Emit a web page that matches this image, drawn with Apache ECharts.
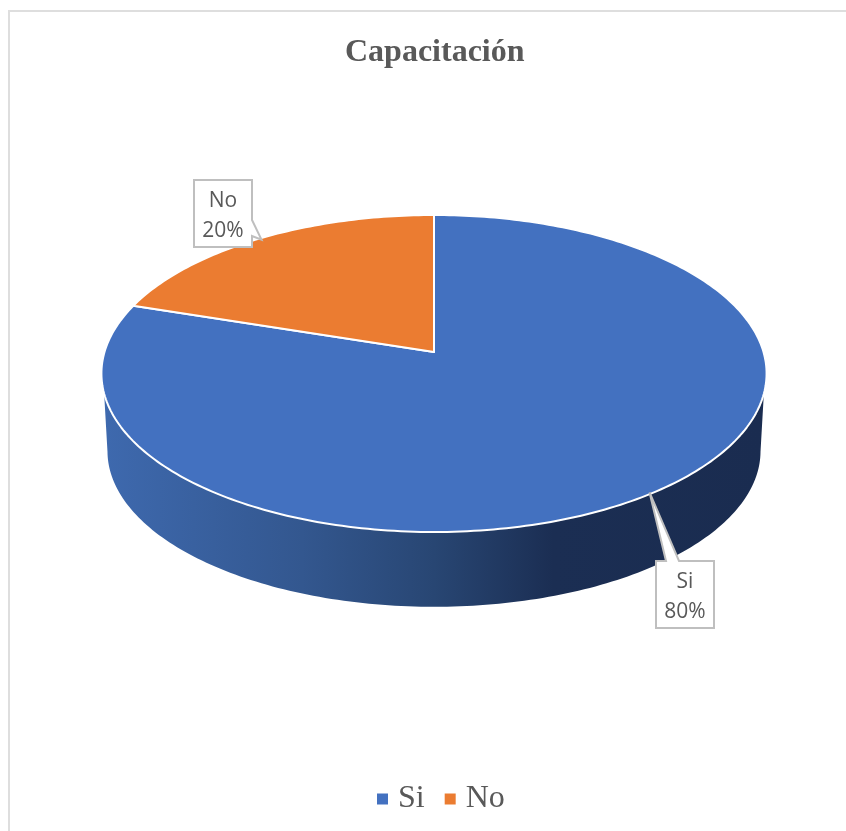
<!DOCTYPE html>
<html>
<head>
<meta charset="utf-8">
<title>Capacitación</title>
<script src="https://cdn.jsdelivr.net/npm/echarts@6/dist/echarts.min.js"></script>
<style>
  html, body { margin: 0; padding: 0; background: #fff; }
  #chart { width: 846px; height: 831px; }
</style>
</head>
<body>
<div id="chart"></div>
<script>
// chart data
let titleText = 'Capacitación';
let categories = ['Si', 'No'];
let values = [80, 20];
let colors = ['#4371C0', '#EB7C31'];

// 3d pie look: a tilted disc drawn with a simple perspective
let top3d = { cx: 434, cy: 352, rx: 329.5, ry: 155.6 };
let bottom3d = { cx: 434, cy: 430, rx: 323.5, ry: 152.8 };
let persp = 0.1356;
// part of the rim that faces the viewer, upper and lower edge
let sideFrom = 105, sideTo = 255;
let baseFrom = 98, baseTo = 262;

// callout boxes, the pointer tip comes from the slice angle
let boxes = {
  Si: { x: 656, y: 561, w: 58, h: 67, p1: [679, 561], p2: [666, 561], shift: [-2, -1] },
  No: { x: 194, y: 180, w: 58, h: 67, p1: [252, 220], p2: [252, 236], shift: [2, 1] }
};

let total = values.reduce(function (a, b) { return a + b; }, 0);

function project(disc, deg, r) {
  let t = deg * Math.PI / 180;
  let u = Math.sin(t) * r, v = Math.cos(t) * r;
  let d = 1 + persp * v;
  return [disc.cx + disc.rx * u / d, disc.cy - disc.ry * v / d];
}

function arc(disc, from, to) {
  let pts = [];
  let step = from < to ? 1 : -1;
  for (let a = from; step > 0 ? a < to : a > to; a += step) {
    pts.push(project(disc, a, 1));
  }
  pts.push(project(disc, to, 1));
  return pts;
}

function calloutPoints(box, tip, name) {
  let x2 = box.x + box.w, y2 = box.y + box.h;
  if (name === 'Si') {
    return [[box.x, box.y], box.p2, tip, box.p1, [x2, box.y], [x2, y2], [box.x, y2]];
  }
  return [[box.x, box.y], [x2, box.y], box.p1, tip, box.p2, [x2, y2], [box.x, y2]];
}

function makeSeries(index) {
  let start = 0;
  for (let i = 0; i < index; i++) start += values[i] / total * 360;
  let name = categories[index];
  return {
    name: name,
    type: 'custom',
    coordinateSystem: 'none',
    silent: true,
    itemStyle: { color: colors[index] },
    data: [[values[index]]],
    renderItem: function (params, api) {
      let sweep = api.value(0) / total * 360;
      let end = start + sweep;
      let mid = start + sweep / 2;
      let children = [];

      let a0 = Math.max(start, sideFrom), a1 = Math.min(end, sideTo);
      if (a0 < a1) {
        children.push({
          type: 'polygon',
          shape: { points: arc(top3d, a0, a1).concat(arc(bottom3d, baseTo, baseFrom)) },
          style: {
            fill: new echarts.graphic.LinearGradient(0, 0, 1, 0, [
              { offset: 0, color: '#3E69AE' },
              { offset: 0.3, color: '#33578F' },
              { offset: 0.5, color: '#284673' },
              { offset: 0.68, color: '#1B2E53' },
              { offset: 1, color: '#1A2C50' }
            ])
          }
        });
      }

      children.push({
        type: 'polygon',
        shape: { points: [[top3d.cx, top3d.cy]].concat(arc(top3d, start, end)) },
        style: { fill: colors[index], stroke: '#fff', lineWidth: 2, lineJoin: 'round' }
      });

      let box = boxes[name];
      let tip = project(top3d, mid, 1);
      children.push({
        type: 'polygon',
        shape: { points: calloutPoints(box, [tip[0] + box.shift[0], tip[1] + box.shift[1]], name) },
        style: { fill: '#fff', stroke: '#BFBFBF', lineWidth: 2 }
      });
      children.push({
        type: 'text',
        style: {
          text: name + '\n' + Math.round(api.value(0) / total * 100) + '%',
          x: box.x + box.w / 2,
          y: box.y + box.h / 2 + 2.5,
          align: 'center',
          verticalAlign: 'middle',
          fill: '#595959',
          font: '21px "Open Sans"',
          lineHeight: 30
        }
      });
      return { type: 'group', children: children };
    }
  };
}

let myChart = echarts.init(document.getElementById('chart'));
myChart.setOption({
  animation: false,
  backgroundColor: '#fff',
  title: {
    text: titleText,
    left: 340,
    top: 32,
    textStyle: {
      color: '#595959',
      fontFamily: '"Liberation Serif"',
      fontWeight: 'bold',
      fontSize: 32
    }
  },
  legend: {
    data: categories,
    left: 372,
    top: 778,
    icon: 'rect',
    itemWidth: 11,
    itemHeight: 11,
    itemGap: 20,
    textStyle: {
      color: '#595959',
      fontFamily: '"Liberation Serif"',
      fontSize: 32,
      padding: [0, 0, 0, 5]
    }
  },
  graphic: [{
    type: 'rect',
    silent: true,
    shape: { x: 9, y: 11, width: 1000, height: 1000 },
    style: { fill: 'none', stroke: '#DEDEDE', lineWidth: 2 }
  }],
  series: categories.map(function (c, i) { return makeSeries(i); })
});
</script>
</body>
</html>
